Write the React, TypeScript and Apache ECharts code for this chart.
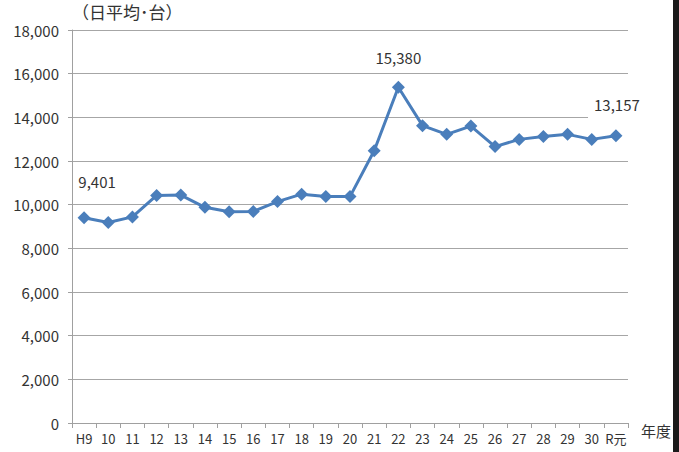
import React, { useEffect, useRef } from "react";
import * as echarts from "echarts";

const categories = ["H9","10","11","12","13","14","15","16","17","18","19","20","21","22","23","24","25","26","27","28","29","30","R元"];
const values = [9401, 9180, 9440, 10420, 10440, 9880, 9680, 9690, 10140, 10480, 10370, 10370, 12470, 15380, 13620, 13220, 13600, 12660, 12990, 13120, 13220, 12990, 13157];
const labeledIndices = [0, 13, 22];
const yTicks = { min: 0, max: 18000, interval: 2000 };
const yUnit = "（日平均･台）";
const xUnit = "年度";

const FONT = "'Noto Sans CJK JP', 'Noto Sans', sans-serif";

export default function App() {
  const ref = useRef<HTMLDivElement>(null);
  useEffect(() => {
    document.body.style.margin = "0";
    const chart = echarts.init(ref.current!, undefined, { renderer: "svg" });
    const data = values.map((v, i) => {
      if (!labeledIndices.includes(i)) return v;
      const label: any = {
        show: true,
        position: "top",
        distance: 16,
        formatter: (p: any) => p.value.toLocaleString("en-US"),
        fontSize: 15,
        color: "#333333",
        fontFamily: FONT,
      };
      if (i === 0) {
        label.offset = [13, 0];
        label.distance = 22;
      }
      if (i === values.length - 1) {
        label.backgroundColor = "#ffffff";
        label.padding = [2, 4, 8, 6];
        label.distance = 9;
      }
      return { value: v, label };
    });
    chart.setOption({
      animation: false,
      backgroundColor: "#ffffff",
      grid: { left: 72, right: 51, top: 30, bottom: 29, containLabel: false },
      xAxis: {
        type: "category",
        data: categories,
        boundaryGap: true,
        axisLine: { lineStyle: { color: "#a0a0a0", width: 1 } },
        axisTick: { show: true, length: 5, lineStyle: { color: "#a0a0a0" } },
        axisLabel: { interval: 0, fontSize: 13, color: "#333333", fontFamily: FONT, margin: 9 },
        splitLine: { show: false },
      },
      yAxis: {
        type: "value",
        min: yTicks.min,
        max: yTicks.max,
        interval: yTicks.interval,
        axisLine: { show: true, lineStyle: { color: "#a0a0a0", width: 1 } },
        axisTick: { show: true, length: 4, lineStyle: { color: "#a0a0a0" } },
        axisLabel: {
          fontSize: 15,
          color: "#333333",
          fontFamily: FONT,
          margin: 13,
          formatter: (v: number) => v.toLocaleString("en-US"),
        },
        splitLine: { show: true, lineStyle: { color: "#a6a6a6", width: 1 } },
      },
      series: [
        {
          type: "line",
          data,
          symbol: "diamond",
          symbolSize: 13,
          lineStyle: { color: "#4a7ebb", width: 3 },
          itemStyle: { color: "#4a7ebb" },
          z: 3,
        },
      ],
      graphic: [
        {
          type: "text",
          left: 72,
          top: 3,
          style: { text: yUnit, fontSize: 17, fill: "#333333", fontFamily: FONT },
        },
        {
          type: "text",
          left: 641,
          top: 423,
          style: { text: xUnit, fontSize: 15, fill: "#333333", fontFamily: FONT },
        },
        {
          type: "rect",
          shape: { x: 673, y: 0, width: 6, height: 452 },
          style: { fill: "#1a1a1a" },
        },
      ],
    });
    return () => chart.dispose();
  }, []);
  return <div ref={ref} style={{ position: "fixed", left: 0, top: 0, width: 679, height: 452 }} />;
}
